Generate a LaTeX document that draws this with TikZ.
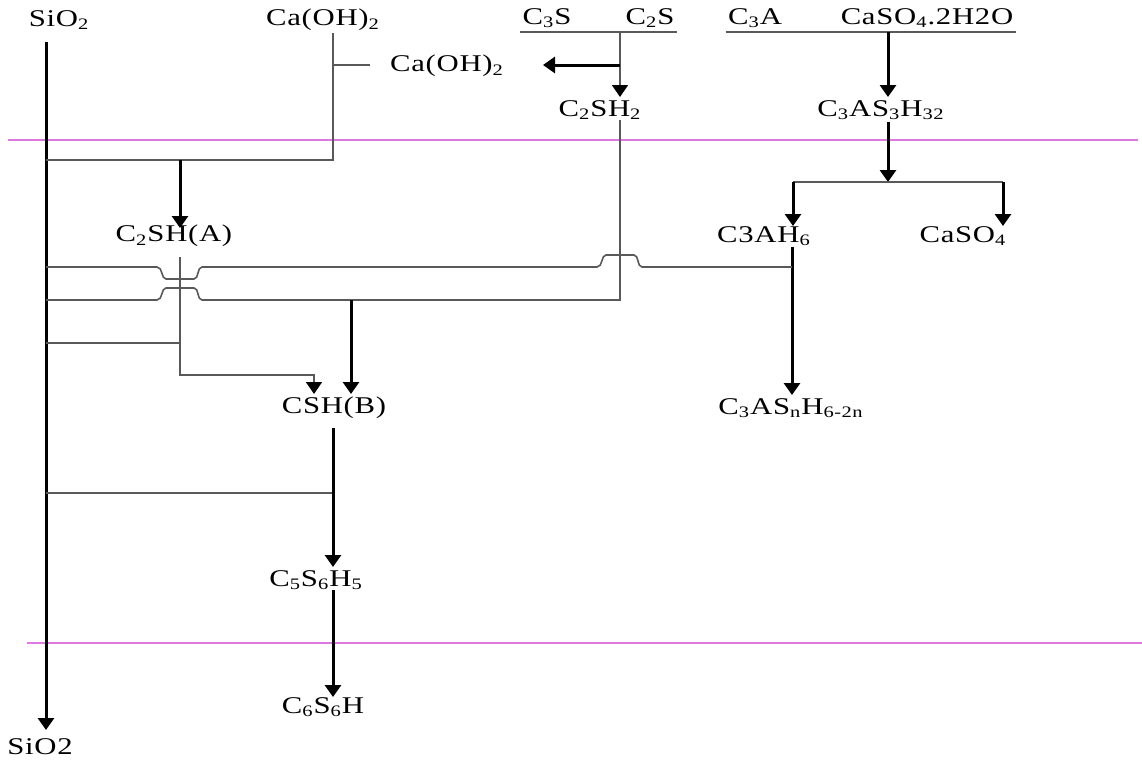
\documentclass[tikz,border=0pt]{standalone}
\usepackage{fontspec}
\setmainfont[FakeStretch=1.28,LetterSpace=3]{Liberation Serif}
\usetikzlibrary{arrows.meta}
\definecolor{bandline}{RGB}{222,120,222}
\newcommand{\sbs}[1]{\textsubscript{#1}}
\tikzset{
  chem/.style={inner sep=1pt,font=\fontsize{12}{14}\selectfont},
  thinline/.style={black!65,line width=0.8pt},
  thickarrow/.style={line width=1.5pt,-{Triangle[length=6pt,width=8pt]}},
  thinarrow/.style={black!65,line width=0.8pt,-{Triangle[length=6pt,width=8pt,color=black]}},
  divider/.style={bandline,line width=1pt}
}

\begin{document}
\begin{tikzpicture}[x=0.5pt,y=-0.5pt]
\useasboundingbox (0,0) rectangle (1142,760);
% zone boundaries
\draw[divider] (8,140) -- (1138,140);
\draw[divider] (27,643) -- (1142,643);

% reactants at the top
\node[chem] (sio) at (59,20) {SiO\sbs{2}};
\node[chem] (caoh) at (323,20) {Ca(OH)\sbs{2}};
\node[chem] (c3s) at (547,18) {C\sbs{3}S};
\node[chem] (c2s) at (650,18) {C\sbs{2}S};
\node[chem] (c3a) at (755,18) {C\sbs{3}A};
\node[chem] (gyp) at (927,18) {CaSO\sbs{4}.2H2O};
\node[chem] (caohout) at (447,66) {Ca(OH)\sbs{2}};

% products
\node[chem] (c2sh2) at (600,110) {C\sbs{2}SH\sbs{2}};
\node[chem] (ett) at (881,110) {C\sbs{3}AS\sbs{3}H\sbs{32}};
\node[chem] (c2sha) at (174,236) {C\sbs{2}SH(A)};
\node[chem] (c3ah6) at (764,236) {C3AH\sbs{6}};
\node[chem] (caso4) at (963,236) {CaSO\sbs{4}};
\node[chem] (cshb) at (334,408) {CSH(B)};
\node[chem] (c3as) at (791,408) {C\sbs{3}AS\sbs{n}H\sbs{6-2n}};
\node[chem] (c5) at (316,580) {C\sbs{5}S\sbs{6}H\sbs{5}};
\node[chem] (c6) at (323,707) {C\sbs{6}S\sbs{6}H};
\node[chem] (sioend) at (40,747) {SiO2};

% junction points
\coordinate (si0) at (46,42);
\coordinate (si1) at (46,730);
\coordinate (ca0) at (333,33);
\coordinate (ca1) at (333,160);
\coordinate (cs) at (620,32);
\coordinate (cs1) at (620,300);
\coordinate (al) at (888,32);
\coordinate (sp) at (888,182);

% SiO2 line
\draw[thickarrow] (si0) -- (si1);

% Ca(OH)2 + SiO2 -> C2SH(A)
\draw[thinline] (ca0) -- (ca1) -- (ca1 -| si0);
\draw[thinline] (333,65) -- (370,65);
\draw[thickarrow] (180,160) -- (180,228);

% C3S, C2S -> C2SH2 + Ca(OH)2
\draw[thinline] (c3s.south west |- cs) -- (c2s.south east |- cs);
\draw[thinarrow] (cs) -- (620,97);
\draw[thickarrow] (620,65) -- (543,65);

% C3A + gypsum -> ettringite -> C3AH6, CaSO4
\draw[thinline] (c3a.south west |- al) -- (gyp.south east |- al);
\draw[thickarrow] (al) -- (888,97);
\draw[thickarrow] (888,122) -- (sp);
\draw[thinline] (793,182) -- (1003,182);
\draw[thickarrow] (793,182) -- (793,226);
\draw[thickarrow] (1003,182) -- (1003,226);
\draw[thickarrow] (792,247) -- (792,395);

% C2SH2 + SiO2 -> CSH(B)
\draw[thinline] (620,120) -- (cs1) -- (202,300)
  .. controls (197,300) and (199,288) .. (194,288) -- (166,288)
  .. controls (161,288) and (163,300) .. (157,300) -- (46,300);
\draw[thickarrow] (351,300) -- (351,394);

% C3AH6 + SiO2
\draw[thinline] (792,267) -- (642,267)
  .. controls (637,267) and (639,255) .. (634,255) -- (606,255)
  .. controls (601,255) and (603,267) .. (597,267) -- (202,267)
  .. controls (197,267) and (199,279) .. (194,279) -- (166,279)
  .. controls (161,279) and (163,267) .. (157,267) -- (46,267);

% C2SH(A) + SiO2 -> CSH(B)
\draw[thinline] (46,343) -- (180,343);
\draw[thinarrow] (180,257) -- (180,375) -- (314,375) -- (314,394);

% CSH(B) -> C5S6H5 -> C6S6H
\draw[thinline] (46,493) -- (333,493);
\draw[thickarrow] (333,428) -- (333,567);
\draw[thickarrow] (333,590) -- (333,697);
\end{tikzpicture}
\end{document}
